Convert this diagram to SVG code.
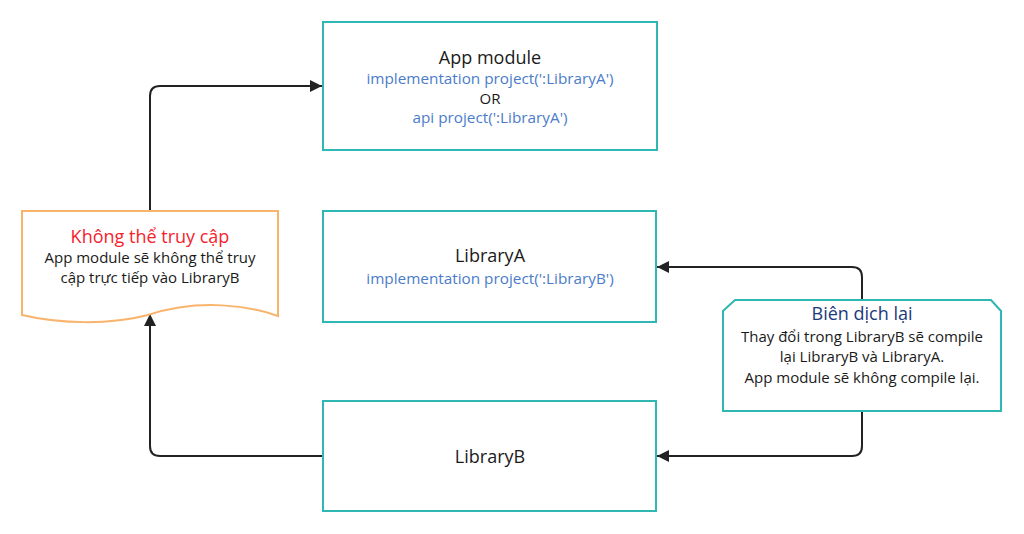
<svg xmlns="http://www.w3.org/2000/svg" width="1024" height="534" viewBox="0 0 1024 534">
<defs>
<style>
.box{fill:#fff;stroke:#2fb8b3;stroke-width:2}
.note{fill:#fff;stroke:#f8b46c;stroke-width:2}
.t{font-family:"Open Sans","Noto Sans",sans-serif;text-anchor:middle;fill:#1a1a1a}
.title{font-size:18px}
.code{font-size:15.3px;fill:#4a7cc9}
.body{font-size:15px}
.conn{fill:none;stroke:#222;stroke-width:2;marker-end:url(#ah)}
</style>
<marker id="ah" viewBox="0 0 12 12" refX="12" refY="6" markerWidth="12" markerHeight="12" markerUnits="userSpaceOnUse" orient="auto">
<path d="M0,0 L12,6 L0,12 Z" fill="#222"/>
</marker>
</defs>
<rect width="1024" height="534" fill="#fff"/>
<g id="connectors">
<path class="conn" d="M150,211 V96 Q150,86 160,86 H322"/>
<path class="conn" d="M322,456 H160 Q150,456 150,446 V314"/>
<path class="conn" d="M862,300 V277 Q862,267 852,267 H657"/>
<path class="conn" d="M862,411 V446 Q862,456 852,456 H657"/>
</g>
<g id="app-module">
<rect class="box" x="323" y="22" width="334" height="128"/>
<text class="t title" x="490" y="64">App module</text>
<text class="t code" x="490" y="84">implementation project(':LibraryA')</text>
<text class="t body" x="490" y="104">OR</text>
<text class="t code" x="490" y="123">api project(':LibraryA')</text>
</g>
<g id="library-a">
<rect class="box" x="323" y="211" width="333" height="111"/>
<text class="t title" x="490" y="262">LibraryA</text>
<text class="t code" x="490" y="284">implementation project(':LibraryB')</text>
</g>
<g id="library-b">
<rect class="box" x="323" y="401" width="333" height="110"/>
<text class="t title" x="490" y="463">LibraryB</text>
</g>
<g id="note-left">
<path class="note" d="M22,211 H278 V316 C250,306 200,298 148,315 C110,325 60,324 22,315 Z"/>
<text class="t title" x="150" y="243" style="fill:#f5222d">Không thể truy cập</text>
<text class="t body" x="150" y="263">App module sẽ không thể truy</text>
<text class="t body" x="150" y="283">cập trực tiếp vào LibraryB</text>
</g>
<g id="note-right">
<path class="box" d="M735,300 H991 L1001,311 V411 H723 V311 Z"/>
<text class="t title" x="862" y="320" style="fill:#1b3a7c">Biên dịch lại</text>
<text class="t body" x="862" y="342">Thay đổi trong LibraryB sẽ compile</text>
<text class="t body" x="862" y="362">lại LibraryB và LibraryA.</text>
<text class="t body" x="862" y="383">App module sẽ không compile lại.</text>
</g>
</svg>
